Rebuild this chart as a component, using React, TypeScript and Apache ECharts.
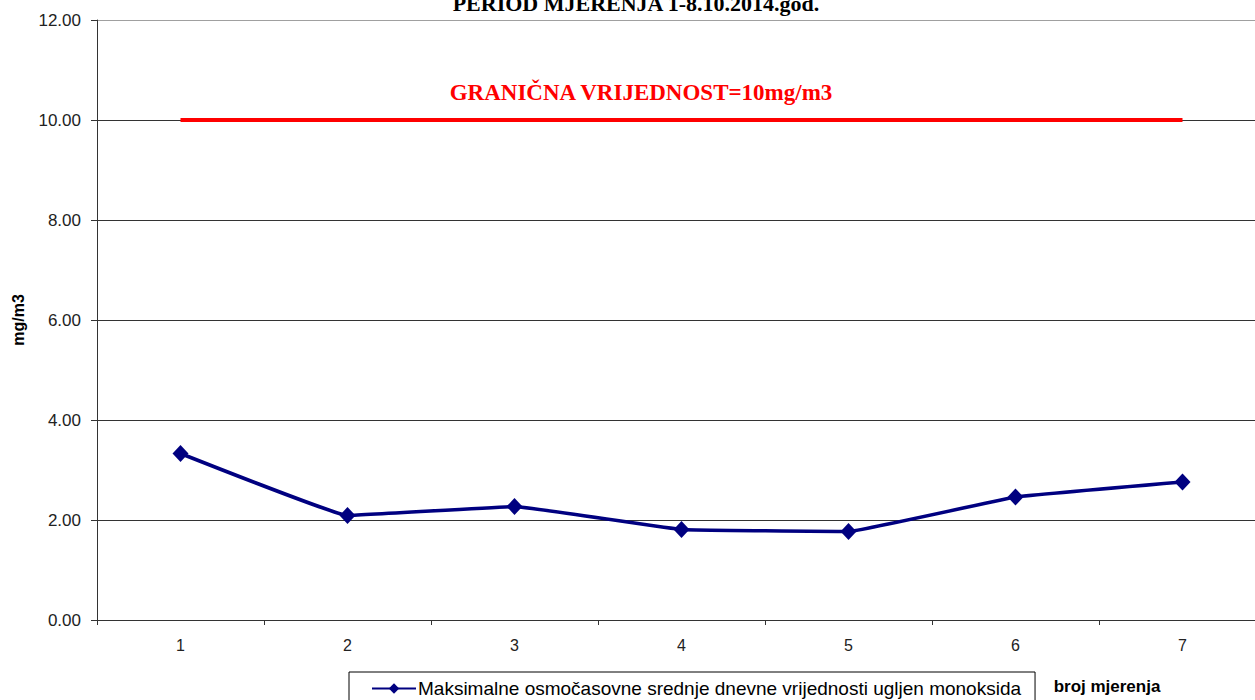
import React, { useEffect, useRef } from "react";
import * as echarts from "echarts";

const categories = ["1", "2", "3", "4", "5", "6", "7"];
const coValues = [3.33, 2.09, 2.27, 1.81, 1.77, 2.46, 2.76];
const limitValues = [10, 10, 10, 10, 10, 10, 10];
const seriesName = "Maksimalne osmočasovne srednje dnevne vrijednosti ugljen monoksida";
const titleText = "PERIOD MJERENJA 1-8.10.2014.god.";
const limitLabel = "GRANIČNA VRIJEDNOST=10mg/m3";
const yAxisTitle = "mg/m3";
const xAxisTitle = "broj mjerenja";

const sans = "Arial, 'Liberation Sans', sans-serif";

export default function App() {
  const ref = useRef<HTMLDivElement>(null);
  useEffect(() => {
    if (!ref.current) return;
    const chart = echarts.init(ref.current, null, { renderer: "svg" });
    chart.setOption({
      animation: false,
      backgroundColor: "#fff",
      grid: { left: 97, top: 20, width: 1169, height: 600, containLabel: false },
      xAxis: {
        type: "category",
        data: categories,
        boundaryGap: true,
        axisLine: { lineStyle: { color: "#333", width: 1 } },
        axisTick: { show: true, length: 5, lineStyle: { color: "#333" } },
        axisLabel: { fontFamily: sans, fontSize: 16, color: "#222", margin: 17 },
        splitLine: { show: false },
      },
      yAxis: {
        type: "value",
        min: 0,
        max: 12,
        interval: 2,
        axisLine: { show: true, lineStyle: { color: "#333", width: 1 } },
        axisTick: { show: true, length: 6, lineStyle: { color: "#333" } },
        axisLabel: {
          fontFamily: sans,
          fontSize: 17,
          color: "#222",
          margin: 16,
          formatter: (v: number) => v.toFixed(2),
        },
        splitLine: {
          show: true,
          lineStyle: { color: ["#333", "#333", "#333", "#333", "#333", "#333", "#a0a0a0"], width: 1 },
        },
      },
      legend: {
        data: [seriesName],
        left: 349,
        top: 672,
        orient: "horizontal",
        borderColor: "#000",
        borderWidth: 1,
        borderRadius: 0,
        padding: [7, 14, 8, 22],
        itemWidth: 44,
        itemHeight: 13,
        itemGap: 4,
        textStyle: { fontFamily: sans, fontSize: 19, color: "#000", padding: [0, 0, 0, -3] },
      },
      graphic: [
        {
          type: "text",
          x: 636,
          y: 3,
          style: {
            text: titleText,
            font: "bold 22px 'Liberation Serif', 'Times New Roman', serif",
            fill: "#000",
            align: "center",
            verticalAlign: "middle",
          },
        },
        {
          type: "text",
          x: 641,
          y: 92,
          style: {
            text: limitLabel,
            font: "bold 23px 'Liberation Serif', 'Times New Roman', serif",
            fill: "#ff0000",
            align: "center",
            verticalAlign: "middle",
          },
        },
        {
          type: "text",
          x: 18,
          y: 320,
          rotation: Math.PI / 2,
          style: {
            text: yAxisTitle,
            font: "bold 16px Arial, 'Liberation Sans', sans-serif",
            fill: "#000",
            align: "center",
            verticalAlign: "middle",
          },
        },
        {
          type: "text",
          x: 1107,
          y: 686,
          style: {
            text: xAxisTitle,
            font: "bold 17px Arial, 'Liberation Sans', sans-serif",
            fill: "#000",
            align: "center",
            verticalAlign: "middle",
          },
        },
      ],
      series: [
        {
          name: "granica",
          type: "line",
          data: limitValues,
          symbol: "none",
          lineStyle: { color: "#ff0000", width: 4 },
          silent: true,
          z: 2,
        },
        {
          name: seriesName,
          type: "line",
          data: coValues,
          smooth: 0.06,
          symbol: "diamond",
          symbolSize: [16, 17],
          itemStyle: { color: "#000080" },
          lineStyle: { color: "#000080", width: 3.5 },
          z: 3,
        },
      ],
    });
    return () => chart.dispose();
  }, []);
  return (
    <div
      ref={ref}
      style={{ position: "fixed", left: 0, top: 0, width: 1266, height: 712, background: "#fff" }}
    />
  );
}
